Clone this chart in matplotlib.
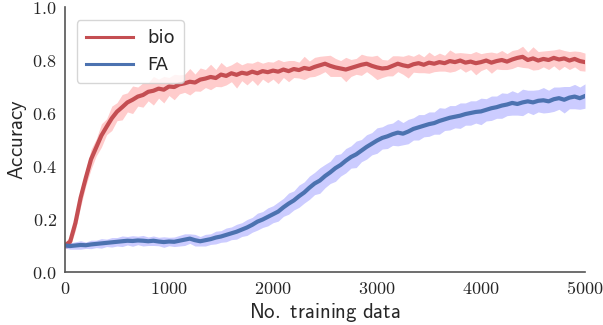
import numpy as np
import matplotlib
matplotlib.use("Agg")
import matplotlib.pyplot as plt
from matplotlib.ticker import FuncFormatter

x_step = 50
x_max = 5000

bio_mean = [
    0.100, 0.115, 0.185, 0.280, 0.355, 0.425, 0.470, 0.515, 0.548, 0.580,
    0.605, 0.622, 0.640, 0.650, 0.662, 0.668, 0.680, 0.684, 0.692, 0.688,
    0.700, 0.698, 0.708, 0.712, 0.718, 0.715, 0.726, 0.730, 0.736, 0.732,
    0.745, 0.740, 0.750, 0.744, 0.752, 0.748, 0.756, 0.750, 0.758, 0.754,
    0.760, 0.756, 0.764, 0.758, 0.766, 0.762, 0.770, 0.766, 0.774, 0.780,
    0.786, 0.778, 0.772, 0.768, 0.764, 0.770, 0.776, 0.782, 0.786, 0.778,
    0.772, 0.768, 0.770, 0.778, 0.786, 0.780, 0.776, 0.784, 0.788, 0.782,
    0.790, 0.786, 0.792, 0.788, 0.796, 0.792, 0.798, 0.790, 0.794, 0.788,
    0.792, 0.798, 0.790, 0.796, 0.800, 0.794, 0.802, 0.808, 0.812, 0.800,
    0.806, 0.798, 0.804, 0.800, 0.808, 0.802, 0.806, 0.798, 0.804, 0.796,
    0.792,
]
bio_err = [
    0.012, 0.020, 0.028, 0.034, 0.030, 0.038, 0.032, 0.044, 0.030, 0.046,
    0.034, 0.048, 0.036, 0.052, 0.036, 0.046, 0.034, 0.054, 0.036, 0.050,
    0.034, 0.048, 0.036, 0.034, 0.050, 0.032, 0.044, 0.034, 0.048, 0.032,
    0.046, 0.034, 0.032, 0.050, 0.030, 0.042, 0.032, 0.046, 0.030, 0.040,
    0.032, 0.046, 0.030, 0.040, 0.032, 0.030, 0.044, 0.030, 0.036, 0.034,
    0.030, 0.040, 0.034, 0.030, 0.046, 0.032, 0.030, 0.040, 0.030, 0.036,
    0.046, 0.034, 0.030, 0.038, 0.030, 0.034, 0.044, 0.030, 0.036, 0.030,
    0.040, 0.030, 0.034, 0.030, 0.042, 0.034, 0.030, 0.036, 0.030, 0.044,
    0.032, 0.030, 0.040, 0.030, 0.036, 0.030, 0.034, 0.032, 0.040, 0.030,
    0.044, 0.034, 0.030, 0.036, 0.030, 0.040, 0.030, 0.034, 0.030, 0.036,
    0.034,
]
fa_mean = [
    0.100, 0.098, 0.100, 0.102, 0.101, 0.104, 0.106, 0.108, 0.110, 0.112,
    0.114, 0.116, 0.118, 0.117, 0.119, 0.118, 0.116, 0.118, 0.115, 0.113,
    0.115, 0.114, 0.118, 0.122, 0.126, 0.120, 0.116, 0.120, 0.124, 0.130,
    0.134, 0.140, 0.146, 0.152, 0.160, 0.168, 0.178, 0.190, 0.198, 0.208,
    0.218, 0.228, 0.244, 0.258, 0.270, 0.286, 0.300, 0.318, 0.334, 0.345,
    0.362, 0.376, 0.392, 0.404, 0.420, 0.434, 0.444, 0.458, 0.472, 0.484,
    0.496, 0.506, 0.512, 0.520, 0.526, 0.522, 0.530, 0.540, 0.546, 0.552,
    0.558, 0.562, 0.570, 0.576, 0.582, 0.586, 0.590, 0.596, 0.600, 0.604,
    0.606, 0.612, 0.618, 0.622, 0.628, 0.632, 0.638, 0.634, 0.640, 0.644,
    0.640, 0.646, 0.648, 0.644, 0.652, 0.656, 0.650, 0.658, 0.662, 0.656,
    0.664,
]
fa_err = [
    0.010, 0.012, 0.014, 0.016, 0.012, 0.016, 0.014, 0.018, 0.014, 0.018,
    0.016, 0.020, 0.016, 0.020, 0.016, 0.020, 0.016, 0.018, 0.016, 0.020,
    0.016, 0.018, 0.020, 0.022, 0.018, 0.022, 0.018, 0.022, 0.020, 0.024,
    0.022, 0.026, 0.024, 0.028, 0.026, 0.030, 0.028, 0.032, 0.030, 0.034,
    0.032, 0.036, 0.034, 0.040, 0.036, 0.042, 0.040, 0.044, 0.042, 0.048,
    0.044, 0.042, 0.050, 0.042, 0.046, 0.042, 0.050, 0.042, 0.046, 0.042,
    0.048, 0.042, 0.046, 0.042, 0.050, 0.042, 0.046, 0.042, 0.048, 0.042,
    0.046, 0.042, 0.050, 0.042, 0.046, 0.042, 0.048, 0.042, 0.046, 0.042,
    0.050, 0.042, 0.046, 0.042, 0.048, 0.042, 0.046, 0.042, 0.050, 0.042,
    0.046, 0.042, 0.048, 0.042, 0.046, 0.042, 0.050, 0.042, 0.046, 0.042,
    0.046,
]
series_labels = ["bio", "FA"]
x_ticks = [0, 1000, 2000, 3000, 4000, 5000]
y_ticks = [0.0, 0.2, 0.4, 0.6, 0.8, 1.0]

x = np.arange(0, x_max + 1, x_step)
bio_mean = np.array(bio_mean); bio_err = np.array(bio_err)
fa_mean = np.array(fa_mean); fa_err = np.array(fa_err)

plt.rcParams["mathtext.fontset"] = "cm"

fig = plt.figure(figsize=(6.03, 3.25), dpi=100)
ax = fig.add_axes([65 / 603, 1 - 272 / 325, 520 / 603, 265 / 325])

ax.fill_between(x, bio_mean - bio_err, bio_mean + bio_err, color="r", alpha=0.2, lw=0)
ax.fill_between(x, fa_mean - fa_err, fa_mean + fa_err, color="b", alpha=0.2, lw=0)
ax.plot(x, bio_mean, color="#C44E52", lw=3, label=series_labels[0])
ax.plot(x, fa_mean, color="#4C72B0", lw=3, label=series_labels[1])

ax.set_xlim(x_ticks[0], x_ticks[-1])
ax.set_ylim(y_ticks[0], y_ticks[-1])
ax.set_xticks(x_ticks)
ax.set_yticks(y_ticks)
ax.xaxis.set_major_formatter(FuncFormatter(lambda v, p: r"$%d$" % v))
ax.yaxis.set_major_formatter(FuncFormatter(lambda v, p: r"$%.1f$" % v))
ax.tick_params(length=0, labelsize=13, colors="#262626", pad=6)

for s in ["top", "right"]:
    ax.spines[s].set_visible(False)
for s in ["left", "bottom"]:
    ax.spines[s].set_color("#555555")
    ax.spines[s].set_linewidth(1.2)

ax.set_xlabel(r"$\mathsf{No.\ training\ data}$", fontsize=15, color="#262626", labelpad=2)
ax.set_ylabel(r"$\mathsf{Accuracy}$", fontsize=15, color="#262626", labelpad=2)

leg = ax.legend(loc="upper left", fontsize=13, frameon=True, fancybox=True,
                handlelength=2.6, borderpad=0.5, bbox_to_anchor=(0.005, 0.985))
leg.get_frame().set_edgecolor("#cccccc")
for t in leg.get_texts():
    t.set_color("#262626")
# keep legend handles at normal thickness
for h in leg.get_lines():
    h.set_linewidth(2.2)

fig.savefig("out.png", dpi=100)
